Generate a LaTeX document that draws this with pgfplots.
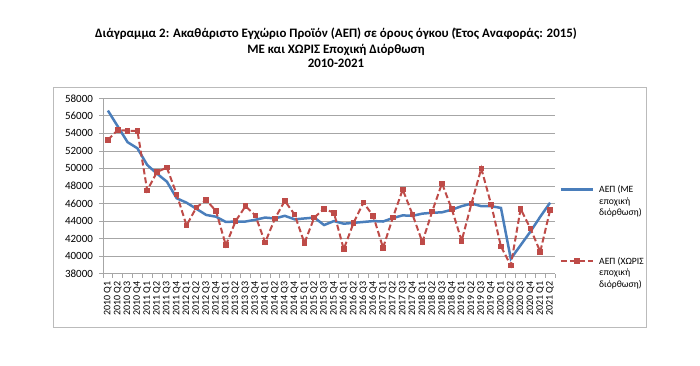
\documentclass[border=0pt]{standalone}
\usepackage{pgfplots}
\pgfplotsset{compat=1.18}
\usepackage{fontspec}
\setmainfont{Carlito}
\definecolor{blueS}{HTML}{4A7EBB}
\definecolor{redS}{HTML}{BE4B48}
\definecolor{gridc}{HTML}{A6A6A6}
\definecolor{framec}{HTML}{BBBBBB}
\begin{document}
\begin{tikzpicture}
\path[use as bounding box] (0pt,0pt) rectangle (700pt,365pt);
\draw[framec, line width=0.8pt] (53pt,38pt) rectangle (646pt,278pt);
\node[anchor=base, font=\bfseries\fontsize{12.9}{15}\selectfont] at (336pt,327.5pt) {Διάγραμμα 2: Ακαθάριστο Εγχώριο Προϊόν (ΑΕΠ) σε όρους όγκου (Έτος Αναφοράς: 2015)};
\node[anchor=base, font=\bfseries\fontsize{12.9}{15}\selectfont] at (336pt,311.5pt) {ΜΕ και ΧΩΡΙΣ Εποχική Διόρθωση};
\node[anchor=base, font=\bfseries\fontsize{12.9}{15}\selectfont] at (336pt,297.5pt) {2010-2021};
\begin{axis}[
  at={(103pt,91.3pt)}, anchor=south west,
  scale only axis, width=452pt, height=175.4pt,
  xmin=-0.5, xmax=45.5, ymin=38000, ymax=58000,
  axis x line=bottom, axis y line=left,
  axis line style={-, draw=gridc, line width=0.8pt},
  ytick={38000,40000,...,58000},
  scaled y ticks=false,
  ymajorgrids, grid style={draw=gridc, line width=0.8pt},
  /pgf/number format/assume math mode=true,
  /pgf/number format/set thousands separator={},
  yticklabel style={font=\fontsize{11}{11}\selectfont, xshift=-2.5pt},
  tick align=outside,
  major tick length=4pt, minor tick length=4pt,
  major y tick style={draw=gridc, line width=0.8pt},
  major x tick style={draw=none},
  minor xtick={-0.5,0.5,...,45.5},
  minor x tick style={draw=gridc, line width=0.8pt},
  xtick={0,...,45},
  xticklabels={2010 Q1,2010 Q2,2010 Q3,2010 Q4,2011 Q1,2011 Q2,2011 Q3,2011 Q4,2012 Q1,2012 Q2,2012 Q3,2012 Q4,2013 Q1,2013 Q2,2013 Q3,2013 Q4,2014 Q1,2014 Q2,2014 Q3,2014 Q4,2015 Q1,2015 Q2,2015 Q3,2015 Q4,2016 Q1,2016 Q2,2016 Q3,2016 Q4,2017 Q1,2017 Q2,2017 Q3,2017 Q4,2018 Q1,2018 Q2,2018 Q3,2018 Q4,2019 Q1,2019 Q2,2019 Q3,2019 Q4,2020 Q1,2020 Q2,2020 Q3,2020 Q4,2021 Q1,2021 Q2},
  xticklabel style={rotate=90, anchor=east, font=\fontsize{10}{10}\selectfont},
  legend image code/.code={\draw[mark repeat=2,mark phase=2,#1] plot coordinates {(0pt,0pt) (16pt,0pt) (32pt,0pt)};},
  legend style={at={(axis description cs:1.01,0.52)}, anchor=north west, draw=none, fill=none,
    font=\fontsize{9.6}{11.5}\selectfont, row sep=58pt, column sep=3pt, inner sep=0pt},
  legend cell align=left,
]
\addplot[blueS, line width=2.5pt] coordinates {
(0,56600) (1,54800) (2,53000) (3,52300) (4,50400) (5,49400) (6,48500) (7,46600)
(8,46100) (9,45400) (10,44700) (11,44500) (12,43900) (13,43950) (14,43950) (15,44150)
(16,44400) (17,44300) (18,44600) (19,44200) (20,44300) (21,44400) (22,43550) (23,44000)
(24,43700) (25,43800) (26,43900) (27,44000) (28,43950) (29,44350) (30,44650) (31,44600)
(32,44850) (33,44950) (34,45000) (35,45300) (36,45700) (37,46000) (38,45700) (39,45700)
(40,45500) (41,39700) (42,41250) (43,42800) (44,44500) (45,46100)};
\addlegendentry{\begin{tabular}[t]{@{}l@{}}ΑΕΠ (ΜΕ\\εποχική\\διόρθωση)\end{tabular}}
\addplot[redS, line width=2pt, dash pattern=on 6pt off 3pt, mark=square*, mark size=1.8pt, mark options={solid}] coordinates {
(0,53250) (1,54400) (2,54300) (3,54300) (4,47500) (5,49600) (6,50100) (7,47050)
(8,43500) (9,45550) (10,46400) (11,45150) (12,41250) (13,44000) (14,45700) (15,44650)
(16,41550) (17,44300) (18,46300) (19,44750) (20,41500) (21,44400) (22,45400) (23,44950)
(24,40800) (25,43800) (26,46100) (27,44600) (28,40950) (29,44400) (30,47600) (31,44750)
(32,41600) (33,45100) (34,48300) (35,45350) (36,41750) (37,46000) (38,50000) (39,45900)
(40,41100) (41,38950) (42,45400) (43,43150) (44,40500) (45,45250)};
\addlegendentry{\begin{tabular}[t]{@{}l@{}}ΑΕΠ (ΧΩΡΙΣ\\εποχική\\διόρθωση)\end{tabular}}
\end{axis}
\end{tikzpicture}
\end{document}
